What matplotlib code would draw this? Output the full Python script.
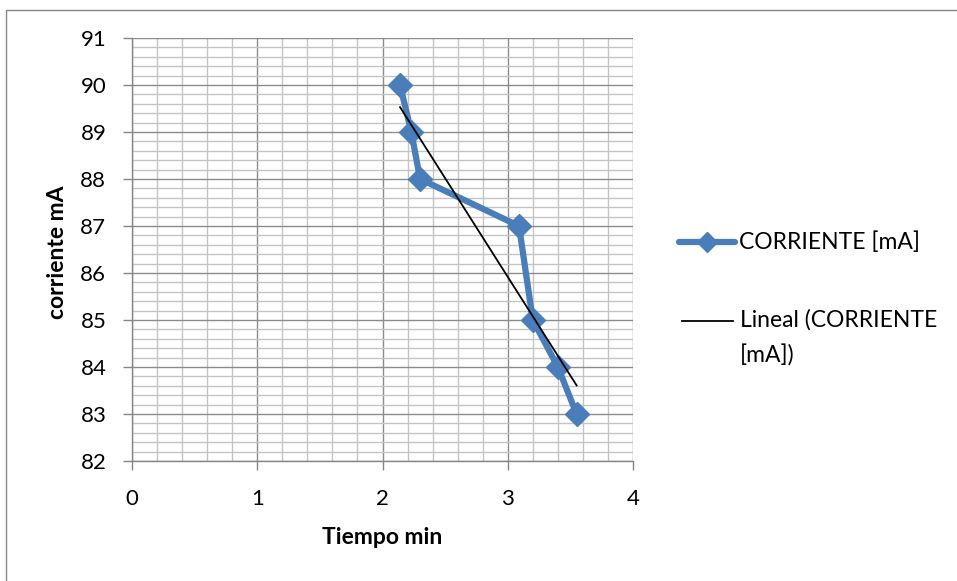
import numpy as np
import matplotlib
matplotlib.use("Agg")
import matplotlib.pyplot as plt
from matplotlib.lines import Line2D
from matplotlib.patches import Rectangle
from matplotlib.ticker import MultipleLocator

plt.rcParams['font.family'] = ['Lato', 'DejaVu Sans']

tiempo = [2.14, 2.23, 2.30, 3.09, 3.20, 3.40, 3.55]
corriente = [90, 89, 88, 87, 85, 84, 83]
series_label = "CORRIENTE [mA]"
trend_label = "Lineal (CORRIENTE\n[mA])"

W, H = 957, 581
fig = plt.figure(figsize=(W / 100, H / 100), dpi=100)


def fx(px):
    return px / W


def fy(py):
    return 1 - py / H


# chart border
fig.patches.append(Rectangle((fx(6), -0.1), 1.2, fy(10) + 0.1,
                             transform=fig.transFigure, fill=False,
                             edgecolor='#868686', linewidth=1.0))

left, right, top, bottom = 132, 633, 38, 461
ax = fig.add_axes([fx(left), fy(bottom), (right - left) / W, (bottom - top) / H])

ax.set_xlim(0, 4)
ax.set_ylim(82, 91)
ax.xaxis.set_major_locator(MultipleLocator(1))
ax.xaxis.set_minor_locator(MultipleLocator(0.2))
ax.yaxis.set_major_locator(MultipleLocator(1))
ax.yaxis.set_minor_locator(MultipleLocator(0.2))

ax.grid(which='minor', color='#c4c4c4', linewidth=1.0)
ax.grid(which='major', color='#8c8c8c', linewidth=1.0)
ax.set_axisbelow(True)

for s in ['top', 'right']:
    ax.spines[s].set_visible(False)
for s in ['left', 'bottom']:
    ax.spines[s].set_color('#868686')
    ax.spines[s].set_linewidth(1.0)

ax.tick_params(which='major', length=6.5, width=1, color='#868686',
               labelsize=16)
ax.tick_params(which='minor', length=0)
ax.tick_params(axis='y', pad=12)
ax.tick_params(axis='x', pad=14)

# data series
ax.plot(tiempo, corriente, color='#4a7ebb', linewidth=4.5, marker='D',
        markersize=12.5, markeredgecolor='#4a7ebb', solid_joinstyle='round',
        zorder=3)

# linear trend
coef = np.polyfit(tiempo, corriente, 1)
xt = np.array([min(tiempo), max(tiempo)])
ax.plot(xt, np.polyval(coef, xt), color='black', linewidth=1.3, zorder=4)

fig.text(fx(382), fy(538), "Tiempo min", fontsize=16.5, fontweight='bold',
         ha='center', va='center')
fig.text(fx(57), fy(252), "corriente mA", fontsize=16.5, fontweight='bold',
         ha='center', va='center', rotation=90)

# legend
fig.lines.append(Line2D([fx(679), fx(707), fx(735)], [fy(242)] * 3,
                        transform=fig.transFigure, color='#4a7ebb',
                        linewidth=4.5, marker='D', markersize=10,
                        markevery=[1], solid_capstyle='round'))
fig.text(fx(739), fy(242), series_label, fontsize=16.5, va='center', ha='left')

fig.lines.append(Line2D([fx(682), fx(733)], [fy(321)] * 2,
                        transform=fig.transFigure, color='black', linewidth=1.3))
fig.text(fx(740), fy(309), trend_label, fontsize=16.5, va='top', ha='left',
         linespacing=1.75)

fig.savefig("out.png", dpi=100)
